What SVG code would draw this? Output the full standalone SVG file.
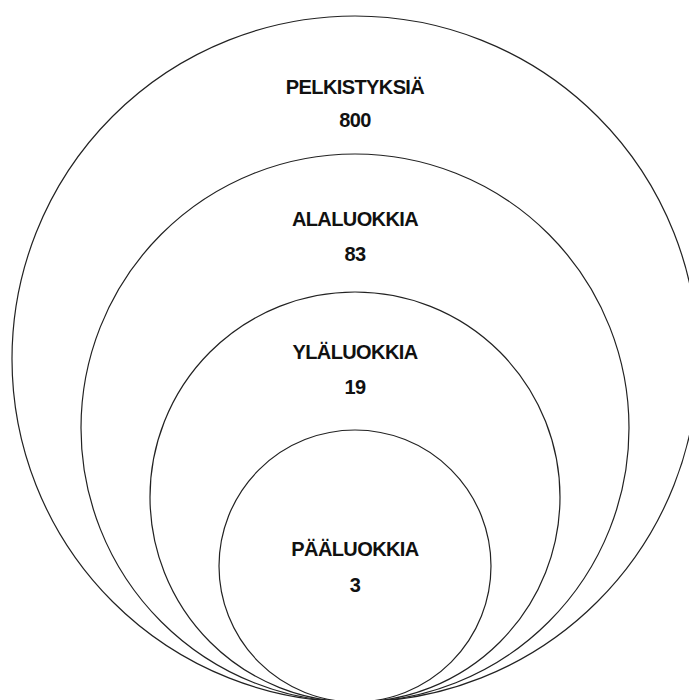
<svg xmlns="http://www.w3.org/2000/svg" width="689" height="700" viewBox="0 0 689 700">
<style>
.c{fill:none;stroke:#222;stroke-width:1.2}
.t{font-family:"Liberation Sans",Arial,sans-serif;font-weight:bold;font-size:20px;letter-spacing:-0.6px;fill:#111;text-anchor:middle}
</style>
<rect width="689" height="700" fill="#fff"/>
<g id="pelkistyksia">
<circle class="c" cx="355" cy="359" r="343"/>
<text class="t" x="355" y="94">PELKISTYKSIÄ</text>
<text class="t" x="355" y="127">800</text>
</g>
<g id="alaluokkia">
<circle class="c" cx="355" cy="428" r="274"/>
<text class="t" x="355" y="226">ALALUOKKIA</text>
<text class="t" x="355" y="261">83</text>
</g>
<g id="ylaluokkia">
<circle class="c" cx="355" cy="497" r="205"/>
<text class="t" x="355" y="359">YLÄLUOKKIA</text>
<text class="t" x="355" y="394">19</text>
</g>
<g id="paaluokkia">
<circle class="c" cx="355" cy="566" r="136"/>
<text class="t" x="355" y="556">PÄÄLUOKKIA</text>
<text class="t" x="355" y="592">3</text>
</g>
<g id="connectors"/>
</svg>
